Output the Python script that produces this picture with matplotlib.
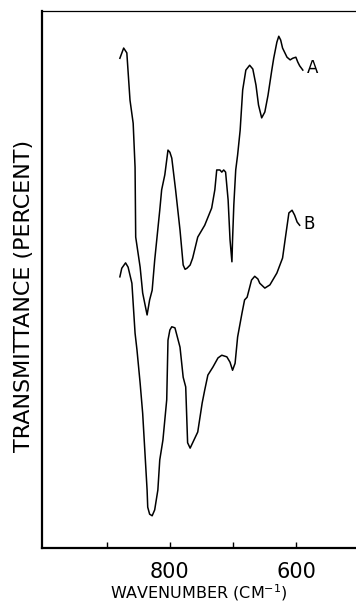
import matplotlib
matplotlib.use("Agg")
import matplotlib.pyplot as plt

# IR spectra (wavenumber in cm-1, transmittance in arbitrary %)
wn_a = [879, 873, 868, 863, 858, 855, 854, 847, 843, 836, 832, 828, 824, 816, 813,
        808, 803, 800, 797, 791, 784, 779, 776, 773, 768, 764, 756, 745, 734, 729,
        726, 721, 718, 715, 712, 708, 705, 702, 701, 699, 696, 693, 689, 688, 685,
        680, 674, 669, 664, 660, 655, 650, 645, 639, 636, 631, 628, 625, 622, 615,
        610, 606, 601, 598, 595, 590]
t_a = [91.2, 93.1, 92.2, 83.4, 79.1, 70.9, 57.9, 52.3, 47.5, 43.4, 46.2, 48.0, 53.6, 62.9, 66.7,
       69.5, 74.1, 73.7, 72.6, 66.7, 59.2, 52.7, 51.9, 52.1, 52.7, 54.0, 57.9, 60.1, 63.3, 66.7,
       70.4, 70.4, 70.0, 70.4, 70.0, 64.8, 57.4, 53.3, 57.4, 63.9, 70.4, 73.2, 77.8, 79.7, 85.3,
       89.0, 89.9, 89.2, 86.2, 82.5, 80.1, 81.2, 84.3, 89.0, 91.2, 94.2, 95.3, 94.6, 93.1, 91.4,
       90.9, 91.2, 91.4, 90.5, 89.8, 89.0]

wn_b = [879, 876, 870, 866, 860, 855, 852, 847, 843, 836, 835, 832, 828, 824, 819,
        816, 811, 805, 803, 800, 797, 792, 784, 779, 775, 772, 768, 764, 756, 749,
        745, 740, 732, 724, 718, 710, 705, 701, 697, 693, 686, 682, 678, 671, 666,
        661, 658, 650, 642, 631, 622, 618, 612, 607, 603, 599, 595]
t_b = [50.5, 52.1, 53.1, 52.3, 49.3, 40.0, 36.9, 30.7, 25.1, 10.8, 7.6, 6.3, 6.0, 7.1, 10.8,
       16.4, 20.1, 27.6, 38.7, 40.6, 41.2, 41.0, 37.4, 31.8, 30.0, 19.6, 18.6, 19.6, 21.6, 27.0,
       29.4, 32.2, 33.7, 35.4, 35.9, 35.6, 34.6, 33.1, 34.4, 39.3, 43.8, 46.2, 46.7, 49.9, 50.6,
       50.1, 49.3, 48.4, 49.0, 51.2, 54.0, 57.4, 62.4, 62.9, 62.0, 60.7, 60.1]

x_ticks = [900, 800, 700, 600]
x_tick_labels = ["", "800", "", "600"]
curve_labels = ["A", "B"]
label_pos = [(575, 89.4), (580, 60.3)]

fig = plt.figure(figsize=(3.56, 6.02), dpi=100)
ax = fig.add_axes([0.118, 0.0897, 0.882, 0.892])

ax.plot(wn_a, t_a, color="black", lw=1.1)
ax.plot(wn_b, t_b, color="black", lw=1.1)
for text, (x, y) in zip(curve_labels, label_pos):
    ax.text(x, y, text, fontsize=12, ha="center", va="center")

ax.set_xlim(1002, 506)
ax.set_ylim(0, 100)
ax.set_xticks(x_ticks)
ax.set_xticklabels(x_tick_labels)
ax.set_yticks([])
ax.tick_params(axis="x", direction="in", length=4, width=1, pad=10, labelsize=15)

ax.spines["right"].set_visible(False)
ax.spines["left"].set_linewidth(1.6)
ax.spines["bottom"].set_linewidth(1.6)
ax.spines["top"].set_linewidth(0.9)

ax.set_xlabel("WAVENUMBER (CM$^{-1}$)", fontsize=11.5, labelpad=0)
ax.set_ylabel("TRANSMITTANCE (PERCENT)", fontsize=16)
ax.yaxis.set_label_coords(-0.025, 0.47)

fig.savefig("out.png", dpi=100)
